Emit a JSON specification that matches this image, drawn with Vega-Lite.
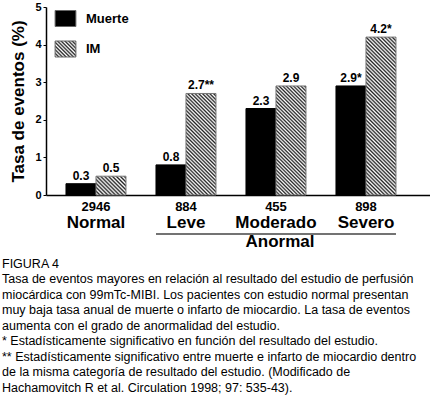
{
  "$schema": "https://vega.github.io/schema/vega-lite/v6.json",
  "autosize": "none",
  "width": 384,
  "height": 188,
  "padding": {"left": 46, "top": 7, "right": 0, "bottom": 203},
  "background": "white",
  "config": {
    "view": {"stroke": null},
    "font": "Liberation Sans",
    "text": {"font": "Liberation Sans", "color": "black"}
  },
  "title": {
    "text": [
      "FIGURA 4",
      "Tasa de eventos mayores en relación al resultado del estudio de perfusión",
      "miocárdica con 99mTc-MIBI. Los pacientes con estudio normal presentan",
      "muy baja tasa anual de muerte o infarto de miocardio. La tasa de eventos",
      "aumenta con el grado de anormalidad del estudio.",
      "* Estadísticamente significativo en función del resultado del estudio.",
      "** Estadísticamente significativo entre muerte e infarto de miocardio dentro",
      "de la misma categoría de resultado del estudio. (Modificado de",
      "Hachamovitch R et al. Circulation 1998; 97: 535-43)."
    ],
    "orient": "bottom",
    "anchor": "start",
    "frame": "group",
    "dx": -44,
    "offset": 8,
    "font": "Liberation Sans",
    "fontSize": 12.5,
    "fontWeight": "normal",
    "lineHeight": 15.5,
    "color": "black"
  },
  "resolve": {"axis": {"y": "independent"}},
  "datasets": {
    "tasas": [
      {"grupo": "Normal", "serie": "Muerte", "valor": 0.3, "etiqueta": "0.3"},
      {"grupo": "Normal", "serie": "IM", "valor": 0.5, "etiqueta": "0.5"},
      {"grupo": "Leve", "serie": "Muerte", "valor": 0.8, "etiqueta": "0.8"},
      {"grupo": "Leve", "serie": "IM", "valor": 2.7, "etiqueta": "2.7**"},
      {"grupo": "Moderado", "serie": "Muerte", "valor": 2.3, "etiqueta": "2.3"},
      {"grupo": "Moderado", "serie": "IM", "valor": 2.9, "etiqueta": "2.9"},
      {"grupo": "Severo", "serie": "Muerte", "valor": 2.9, "etiqueta": "2.9*"},
      {"grupo": "Severo", "serie": "IM", "valor": 4.2, "etiqueta": "4.2*"}
    ],
    "grupos": [
      {"grupo": "Normal", "n": 2946},
      {"grupo": "Leve", "n": 884},
      {"grupo": "Moderado", "n": 455},
      {"grupo": "Severo", "n": 898}
    ],
    "anormal": [
      {"desde": "Leve", "hasta": "Severo", "centro": "Moderado", "etiqueta": "Anormal"}
    ]
  },
  "encoding": {
    "x": {
      "field": "grupo",
      "type": "nominal",
      "sort": ["Normal", "Leve", "Moderado", "Severo"],
      "scale": {"domain": ["Normal", "Leve", "Moderado", "Severo"], "paddingInner": 0.33333, "paddingOuter": 0.3, "align": 0.37},
      "axis": {
        "title": null,
        "labelAngle": 0,
        "labelFont": "Liberation Sans",
        "labelFontSize": 17,
        "labelFontWeight": "bold",
        "labelColor": "black",
        "labelPadding": 19,
        "ticks": false,
        "domainColor": "black",
        "domainWidth": 1.5
      }
    }
  },
  "layer": [
    {
      "data": {"name": "tasas"},
      "transform": [
        {"calculate": "datum.serie === 'IM' ? 'IM-' + datum.grupo : 'Muerte'", "as": "clave"}
      ],
      "mark": {"type": "bar", "strokeWidth": 1},
      "encoding": {
        "xOffset": {
          "field": "serie",
          "type": "nominal",
          "sort": ["Muerte", "IM"],
          "scale": {"domain": ["Muerte", "IM"], "paddingInner": 0, "paddingOuter": 0}
        },
        "y": {
          "field": "valor",
          "type": "quantitative",
          "scale": {"domain": [0, 5], "nice": false},
          "axis": {
            "title": "Tasa de eventos (%)",
            "titleFont": "Liberation Sans",
            "titleFontSize": 17,
            "titleFontWeight": "bold",
            "titleColor": "black",
            "titlePadding": 7,
            "values": [0, 1, 2, 3, 4, 5],
            "labelOverlap": false,
            "format": "d",
            "grid": false,
            "labelFont": "Liberation Sans",
            "labelFontSize": 11,
            "labelFontWeight": "bold",
            "labelColor": "black",
            "labelPadding": 2,
            "tickSize": 3,
            "tickColor": "black",
            "domainColor": "black",
            "domainWidth": 1.5
          }
        },
        "fill": {
          "field": "clave",
          "type": "nominal",
          "scale": {
            "domain": ["Muerte", "IM", "IM-Normal", "IM-Leve", "IM-Moderado", "IM-Severo"],
            "range": [
              "black",
              {"expr": "{gradient:'linear',x1:0,y1:1,x2:1.1115,y2:0.145,stops:[{offset:0,color:'#222'},{offset:0.05,color:'#fff'},{offset:0.1,color:'#222'},{offset:0.15,color:'#fff'},{offset:0.2,color:'#222'},{offset:0.25,color:'#fff'},{offset:0.3,color:'#222'},{offset:0.35,color:'#fff'},{offset:0.4,color:'#222'},{offset:0.45,color:'#fff'},{offset:0.5,color:'#222'},{offset:0.55,color:'#fff'},{offset:0.6,color:'#222'},{offset:0.65,color:'#fff'},{offset:0.7,color:'#222'},{offset:0.75,color:'#fff'},{offset:0.8,color:'#222'},{offset:0.85,color:'#fff'},{offset:0.9,color:'#222'},{offset:0.95,color:'#fff'},{offset:1,color:'#222'}]}"},
              {"expr": "{gradient:'linear',x1:0,y1:1,x2:1.168,y2:0.2681,stops:[{offset:0,color:'#222'},{offset:0.04,color:'#fff'},{offset:0.08,color:'#222'},{offset:0.12,color:'#fff'},{offset:0.16,color:'#222'},{offset:0.2,color:'#fff'},{offset:0.24,color:'#222'},{offset:0.28,color:'#fff'},{offset:0.32,color:'#222'},{offset:0.36,color:'#fff'},{offset:0.4,color:'#222'},{offset:0.44,color:'#fff'},{offset:0.48,color:'#222'},{offset:0.52,color:'#fff'},{offset:0.56,color:'#222'},{offset:0.6,color:'#fff'},{offset:0.64,color:'#222'},{offset:0.68,color:'#fff'},{offset:0.72,color:'#222'},{offset:0.76,color:'#fff'},{offset:0.8,color:'#222'},{offset:0.84,color:'#fff'},{offset:0.88,color:'#222'},{offset:0.92,color:'#fff'},{offset:0.96,color:'#222'},{offset:1,color:'#fff'}]}"},
              {"expr": "{gradient:'linear',x1:0,y1:1,x2:0.3521,y2:-0.1915,stops:[{offset:0,color:'#222'},{offset:0.014,color:'#fff'},{offset:0.028,color:'#222'},{offset:0.042,color:'#fff'},{offset:0.056,color:'#222'},{offset:0.07,color:'#fff'},{offset:0.084,color:'#222'},{offset:0.098,color:'#fff'},{offset:0.112,color:'#222'},{offset:0.126,color:'#fff'},{offset:0.14,color:'#222'},{offset:0.154,color:'#fff'},{offset:0.168,color:'#222'},{offset:0.182,color:'#fff'},{offset:0.196,color:'#222'},{offset:0.21,color:'#fff'},{offset:0.224,color:'#222'},{offset:0.238,color:'#fff'},{offset:0.252,color:'#222'},{offset:0.266,color:'#fff'},{offset:0.28,color:'#222'},{offset:0.294,color:'#fff'},{offset:0.308,color:'#222'},{offset:0.322,color:'#fff'},{offset:0.336,color:'#222'},{offset:0.35,color:'#fff'},{offset:0.364,color:'#222'},{offset:0.378,color:'#fff'},{offset:0.392,color:'#222'},{offset:0.406,color:'#fff'},{offset:0.42,color:'#222'},{offset:0.434,color:'#fff'},{offset:0.448,color:'#222'},{offset:0.462,color:'#fff'},{offset:0.476,color:'#222'},{offset:0.49,color:'#fff'},{offset:0.504,color:'#222'},{offset:0.518,color:'#fff'},{offset:0.532,color:'#222'},{offset:0.546,color:'#fff'},{offset:0.56,color:'#222'},{offset:0.574,color:'#fff'},{offset:0.588,color:'#222'},{offset:0.602,color:'#fff'},{offset:0.616,color:'#222'},{offset:0.63,color:'#fff'},{offset:0.644,color:'#222'},{offset:0.658,color:'#fff'},{offset:0.672,color:'#222'},{offset:0.686,color:'#fff'},{offset:0.7,color:'#222'},{offset:0.714,color:'#fff'},{offset:0.728,color:'#222'},{offset:0.742,color:'#fff'},{offset:0.756,color:'#222'},{offset:0.77,color:'#fff'},{offset:0.784,color:'#222'},{offset:0.798,color:'#fff'},{offset:0.812,color:'#222'},{offset:0.826,color:'#fff'},{offset:0.84,color:'#222'},{offset:0.854,color:'#fff'},{offset:0.868,color:'#222'},{offset:0.882,color:'#fff'},{offset:0.896,color:'#222'},{offset:0.91,color:'#fff'},{offset:0.924,color:'#222'},{offset:0.938,color:'#fff'},{offset:0.952,color:'#222'},{offset:0.966,color:'#fff'},{offset:0.98,color:'#222'},{offset:0.994,color:'#fff'}]}"},
              {"expr": "{gradient:'linear',x1:0,y1:1,x2:0.3261,y2:-0.1854,stops:[{offset:0,color:'#222'},{offset:0.013,color:'#fff'},{offset:0.026,color:'#222'},{offset:0.039,color:'#fff'},{offset:0.052,color:'#222'},{offset:0.065,color:'#fff'},{offset:0.078,color:'#222'},{offset:0.091,color:'#fff'},{offset:0.104,color:'#222'},{offset:0.117,color:'#fff'},{offset:0.13,color:'#222'},{offset:0.143,color:'#fff'},{offset:0.156,color:'#222'},{offset:0.169,color:'#fff'},{offset:0.182,color:'#222'},{offset:0.195,color:'#fff'},{offset:0.208,color:'#222'},{offset:0.221,color:'#fff'},{offset:0.234,color:'#222'},{offset:0.247,color:'#fff'},{offset:0.26,color:'#222'},{offset:0.273,color:'#fff'},{offset:0.286,color:'#222'},{offset:0.299,color:'#fff'},{offset:0.312,color:'#222'},{offset:0.325,color:'#fff'},{offset:0.338,color:'#222'},{offset:0.351,color:'#fff'},{offset:0.364,color:'#222'},{offset:0.377,color:'#fff'},{offset:0.39,color:'#222'},{offset:0.403,color:'#fff'},{offset:0.416,color:'#222'},{offset:0.429,color:'#fff'},{offset:0.442,color:'#222'},{offset:0.455,color:'#fff'},{offset:0.468,color:'#222'},{offset:0.481,color:'#fff'},{offset:0.494,color:'#222'},{offset:0.507,color:'#fff'},{offset:0.52,color:'#222'},{offset:0.533,color:'#fff'},{offset:0.546,color:'#222'},{offset:0.559,color:'#fff'},{offset:0.572,color:'#222'},{offset:0.585,color:'#fff'},{offset:0.598,color:'#222'},{offset:0.611,color:'#fff'},{offset:0.624,color:'#222'},{offset:0.637,color:'#fff'},{offset:0.65,color:'#222'},{offset:0.663,color:'#fff'},{offset:0.676,color:'#222'},{offset:0.689,color:'#fff'},{offset:0.702,color:'#222'},{offset:0.715,color:'#fff'},{offset:0.728,color:'#222'},{offset:0.741,color:'#fff'},{offset:0.754,color:'#222'},{offset:0.767,color:'#fff'},{offset:0.78,color:'#222'},{offset:0.793,color:'#fff'},{offset:0.806,color:'#222'},{offset:0.819,color:'#fff'},{offset:0.832,color:'#222'},{offset:0.845,color:'#fff'},{offset:0.858,color:'#222'},{offset:0.871,color:'#fff'},{offset:0.884,color:'#222'},{offset:0.897,color:'#fff'},{offset:0.91,color:'#222'},{offset:0.923,color:'#fff'},{offset:0.936,color:'#222'},{offset:0.949,color:'#fff'},{offset:0.962,color:'#222'},{offset:0.975,color:'#fff'},{offset:0.988,color:'#222'}]}"},
              {"expr": "{gradient:'linear',x1:0,y1:1,x2:0.2182,y2:-0.1485,stops:[{offset:0,color:'#222'},{offset:0.01,color:'#fff'},{offset:0.02,color:'#222'},{offset:0.03,color:'#fff'},{offset:0.04,color:'#222'},{offset:0.05,color:'#fff'},{offset:0.06,color:'#222'},{offset:0.07,color:'#fff'},{offset:0.08,color:'#222'},{offset:0.09,color:'#fff'},{offset:0.1,color:'#222'},{offset:0.11,color:'#fff'},{offset:0.12,color:'#222'},{offset:0.13,color:'#fff'},{offset:0.14,color:'#222'},{offset:0.15,color:'#fff'},{offset:0.16,color:'#222'},{offset:0.17,color:'#fff'},{offset:0.18,color:'#222'},{offset:0.19,color:'#fff'},{offset:0.2,color:'#222'},{offset:0.21,color:'#fff'},{offset:0.22,color:'#222'},{offset:0.23,color:'#fff'},{offset:0.24,color:'#222'},{offset:0.25,color:'#fff'},{offset:0.26,color:'#222'},{offset:0.27,color:'#fff'},{offset:0.28,color:'#222'},{offset:0.29,color:'#fff'},{offset:0.3,color:'#222'},{offset:0.31,color:'#fff'},{offset:0.32,color:'#222'},{offset:0.33,color:'#fff'},{offset:0.34,color:'#222'},{offset:0.35,color:'#fff'},{offset:0.36,color:'#222'},{offset:0.37,color:'#fff'},{offset:0.38,color:'#222'},{offset:0.39,color:'#fff'},{offset:0.4,color:'#222'},{offset:0.41,color:'#fff'},{offset:0.42,color:'#222'},{offset:0.43,color:'#fff'},{offset:0.44,color:'#222'},{offset:0.45,color:'#fff'},{offset:0.46,color:'#222'},{offset:0.47,color:'#fff'},{offset:0.48,color:'#222'},{offset:0.49,color:'#fff'},{offset:0.5,color:'#222'},{offset:0.51,color:'#fff'},{offset:0.52,color:'#222'},{offset:0.53,color:'#fff'},{offset:0.54,color:'#222'},{offset:0.55,color:'#fff'},{offset:0.56,color:'#222'},{offset:0.57,color:'#fff'},{offset:0.58,color:'#222'},{offset:0.59,color:'#fff'},{offset:0.6,color:'#222'},{offset:0.61,color:'#fff'},{offset:0.62,color:'#222'},{offset:0.63,color:'#fff'},{offset:0.64,color:'#222'},{offset:0.65,color:'#fff'},{offset:0.66,color:'#222'},{offset:0.67,color:'#fff'},{offset:0.68,color:'#222'},{offset:0.69,color:'#fff'},{offset:0.7,color:'#222'},{offset:0.71,color:'#fff'},{offset:0.72,color:'#222'},{offset:0.73,color:'#fff'},{offset:0.74,color:'#222'},{offset:0.75,color:'#fff'},{offset:0.76,color:'#222'},{offset:0.77,color:'#fff'},{offset:0.78,color:'#222'},{offset:0.79,color:'#fff'},{offset:0.8,color:'#222'},{offset:0.81,color:'#fff'},{offset:0.82,color:'#222'},{offset:0.83,color:'#fff'},{offset:0.84,color:'#222'},{offset:0.85,color:'#fff'},{offset:0.86,color:'#222'},{offset:0.87,color:'#fff'},{offset:0.88,color:'#222'},{offset:0.89,color:'#fff'},{offset:0.9,color:'#222'},{offset:0.91,color:'#fff'},{offset:0.92,color:'#222'},{offset:0.93,color:'#fff'},{offset:0.94,color:'#222'},{offset:0.95,color:'#fff'},{offset:0.96,color:'#222'},{offset:0.97,color:'#fff'},{offset:0.98,color:'#222'},{offset:0.99,color:'#fff'},{offset:1,color:'#222'}]}"}
            ]
          },
          "legend": {
            "title": null,
            "values": ["Muerte", "IM"],
            "orient": "none",
            "legendX": 11,
            "legendY": 3,
            "padding": 0,
            "symbolType": "M-1.3,-1H1.3V1H-1.3Z",
            "symbolSize": 256,
            "symbolStrokeColor": "#666",
            "symbolStrokeWidth": 1,
            "labelFont": "Liberation Sans",
            "labelFontSize": 13,
            "labelFontWeight": "bold",
            "labelColor": "black",
            "labelOffset": 12,
            "rowPadding": 9.5
          }
        },
        "stroke": {
          "field": "serie",
          "type": "nominal",
          "scale": {"domain": ["Muerte", "IM"], "range": ["black", "#777"]},
          "legend": null
        }
      }
    },
    {
      "data": {"name": "tasas"},
      "mark": {"type": "text", "fontSize": 12, "fontWeight": "bold", "baseline": "alphabetic", "dy": -4},
      "encoding": {
        "xOffset": {"field": "serie", "type": "nominal", "sort": ["Muerte", "IM"], "scale": {"domain": ["Muerte", "IM"], "paddingInner": 0, "paddingOuter": 0}},
        "y": {"field": "valor", "type": "quantitative", "axis": null},
        "text": {"field": "etiqueta", "type": "nominal"}
      }
    },
    {
      "data": {"name": "grupos"},
      "mark": {"type": "text", "fontSize": 13, "fontWeight": "bold", "baseline": "middle", "dy": 12},
      "encoding": {
        "y": {"datum": 0, "axis": null},
        "text": {"field": "n", "type": "quantitative", "format": "d"}
      }
    },
    {
      "data": {"name": "anormal"},
      "mark": {"type": "rule", "color": "#444", "strokeWidth": 1.5, "yOffset": 39},
      "encoding": {
        "x": {"field": "desde", "type": "nominal", "bandPosition": 0},
        "x2": {"field": "hasta", "bandPosition": 1},
        "y": {"datum": 0, "axis": null}
      }
    },
    {
      "data": {"name": "anormal"},
      "mark": {"type": "text", "fontSize": 17, "fontWeight": "bold", "baseline": "middle", "dy": 46.5, "dx": 4},
      "encoding": {
        "x": {"field": "centro", "type": "nominal"},
        "y": {"datum": 0, "axis": null},
        "text": {"field": "etiqueta", "type": "nominal"}
      }
    }
  ]
}
